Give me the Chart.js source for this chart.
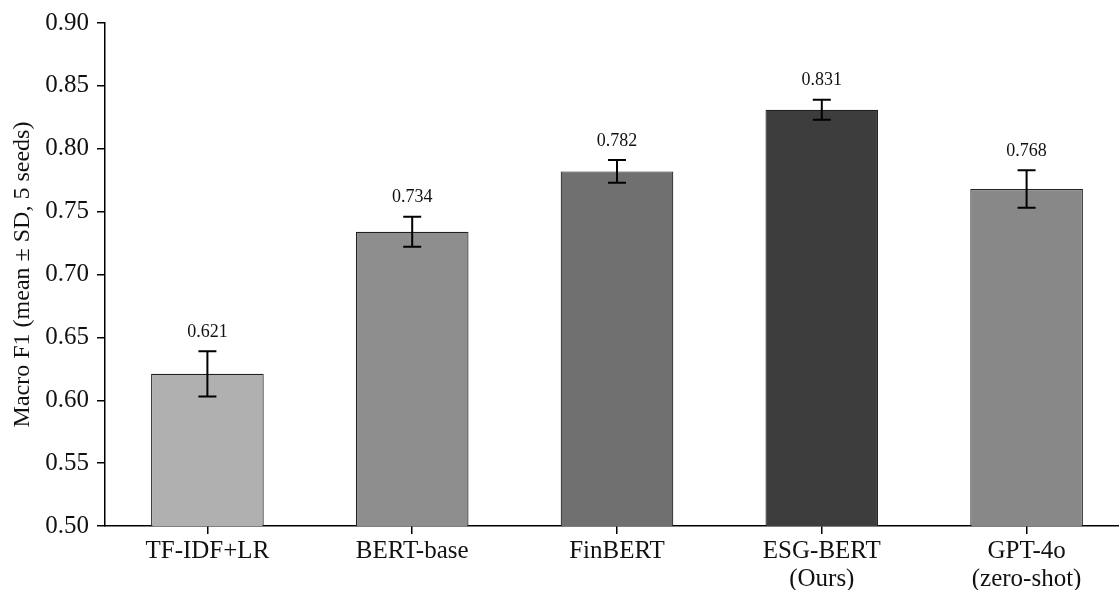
<!DOCTYPE html>
<html>
<head>
<meta charset="utf-8">
<script src="https://cdn.jsdelivr.net/npm/chart.js@4.4.1/dist/chart.umd.min.js"></script>
<style>
  html, body { margin: 0; padding: 0; background: #fff; overflow: hidden; }
  #wrap { width: 1129px; height: 590px; }
</style>
</head>
<body>
<div id="wrap"><canvas id="barChart"></canvas></div>
<script>
// 数据
var models = [["TF-IDF+LR"], ["BERT-base"], ["FinBERT"], ["ESG-BERT", "(Ours)"], ["GPT-4o", "(zero-shot)"]];
var meanF1 = [0.621, 0.734, 0.782, 0.831, 0.768];
var sdF1 = [0.018, 0.012, 0.009, 0.008, 0.015];
var valueLabels = ["0.621", "0.734", "0.782", "0.831", "0.768"];
var barColors = ["#b0b0b0", "#8e8e8e", "#707070", "#3d3d3d", "#888888"];
var yTicks = [0.50, 0.55, 0.60, 0.65, 0.70, 0.75, 0.80, 0.85, 0.90];

var serif = "'Liberation Serif', 'Times New Roman', serif";

// 误差线 + 数值标签
var errorBarPlugin = {
    id: 'errorBars',
    afterDatasetsDraw: function(chart) {
        var ctx = chart.ctx;
        var meta = chart.getDatasetMeta(0);
        var y = chart.scales.y;
        ctx.save();
        meta.data.forEach(function(bar, i) {
            var x = bar.x;
            var top = y.getPixelForValue(meanF1[i] + sdF1[i]);
            var bottom = y.getPixelForValue(meanF1[i] - sdF1[i]);
            ctx.strokeStyle = '#000';
            ctx.lineWidth = 2;
            ctx.beginPath();
            ctx.moveTo(x, top); ctx.lineTo(x, bottom);
            ctx.moveTo(x - 9, top); ctx.lineTo(x + 9, top);
            ctx.moveTo(x - 9, bottom); ctx.lineTo(x + 9, bottom);
            ctx.stroke();
            //数值
            ctx.fillStyle = '#111';
            ctx.font = '18px ' + serif;
            ctx.textAlign = 'center';
            ctx.textBaseline = 'bottom';
            ctx.fillText(valueLabels[i], x, top - 10);
        });
        ctx.restore();
    }
};

function initChart() {
    var el = document.getElementById('barChart');
    var data = {
        labels: models,
        datasets: [{
            data: meanF1,
            backgroundColor: barColors,
            borderColor: '#222',
            borderWidth: 1.2,
            borderSkipped: 'bottom',
            barPercentage: 0.55,
            categoryPercentage: 1.0
        }]
    };
    var config = {
        type: 'bar',
        data: data,
        options: {
            responsive: true,
            maintainAspectRatio: false,
            animation: false,
            layout: { padding: { top: 20, right: 0, left: 0, bottom: 0 } },
            plugins: { legend: { display: false }, tooltip: { enabled: false } },
            scales: {
                x: {
                    offset: true,
                    grid: { display: true, offset: false, drawOnChartArea: false, drawTicks: true, tickLength: 8, color: '#000', lineWidth: 1.5 },
                    border: { display: true, color: '#000', width: 1.5 },
                    ticks: { color: '#111', font: { family: serif, size: 25, lineHeight: 1.12 }, padding: 3, maxRotation: 0, autoSkip: false },
                    afterFit: function(s) { s.height = 64; }
                },
                y: {
                    min: 0.50,
                    max: 0.90,
                    afterBuildTicks: function(s) { s.ticks = yTicks.map(function(v) { return { value: v }; }); },
                    grid: { display: true, drawOnChartArea: false, drawTicks: true, tickLength: 8, color: '#000', lineWidth: 1.5 },
                    border: { display: true, color: '#000', width: 1.5 },
                    ticks: {
                        color: '#111',
                        font: { family: serif, size: 25 },
                        padding: 8,
                        callback: function(v) { return v.toFixed(2); }
                    },
                    title: { display: true, text: 'Macro F1 (mean ± SD, 5 seeds)', color: '#111', font: { family: serif, size: 24 }, padding: { top: 8, bottom: 4 } },
                    afterFit: function(s) { s.width = 105; }
                }
            }
        },
        plugins: [errorBarPlugin]
    };
    new Chart(el, config);
}

initChart();
</script>
</body>
</html>
